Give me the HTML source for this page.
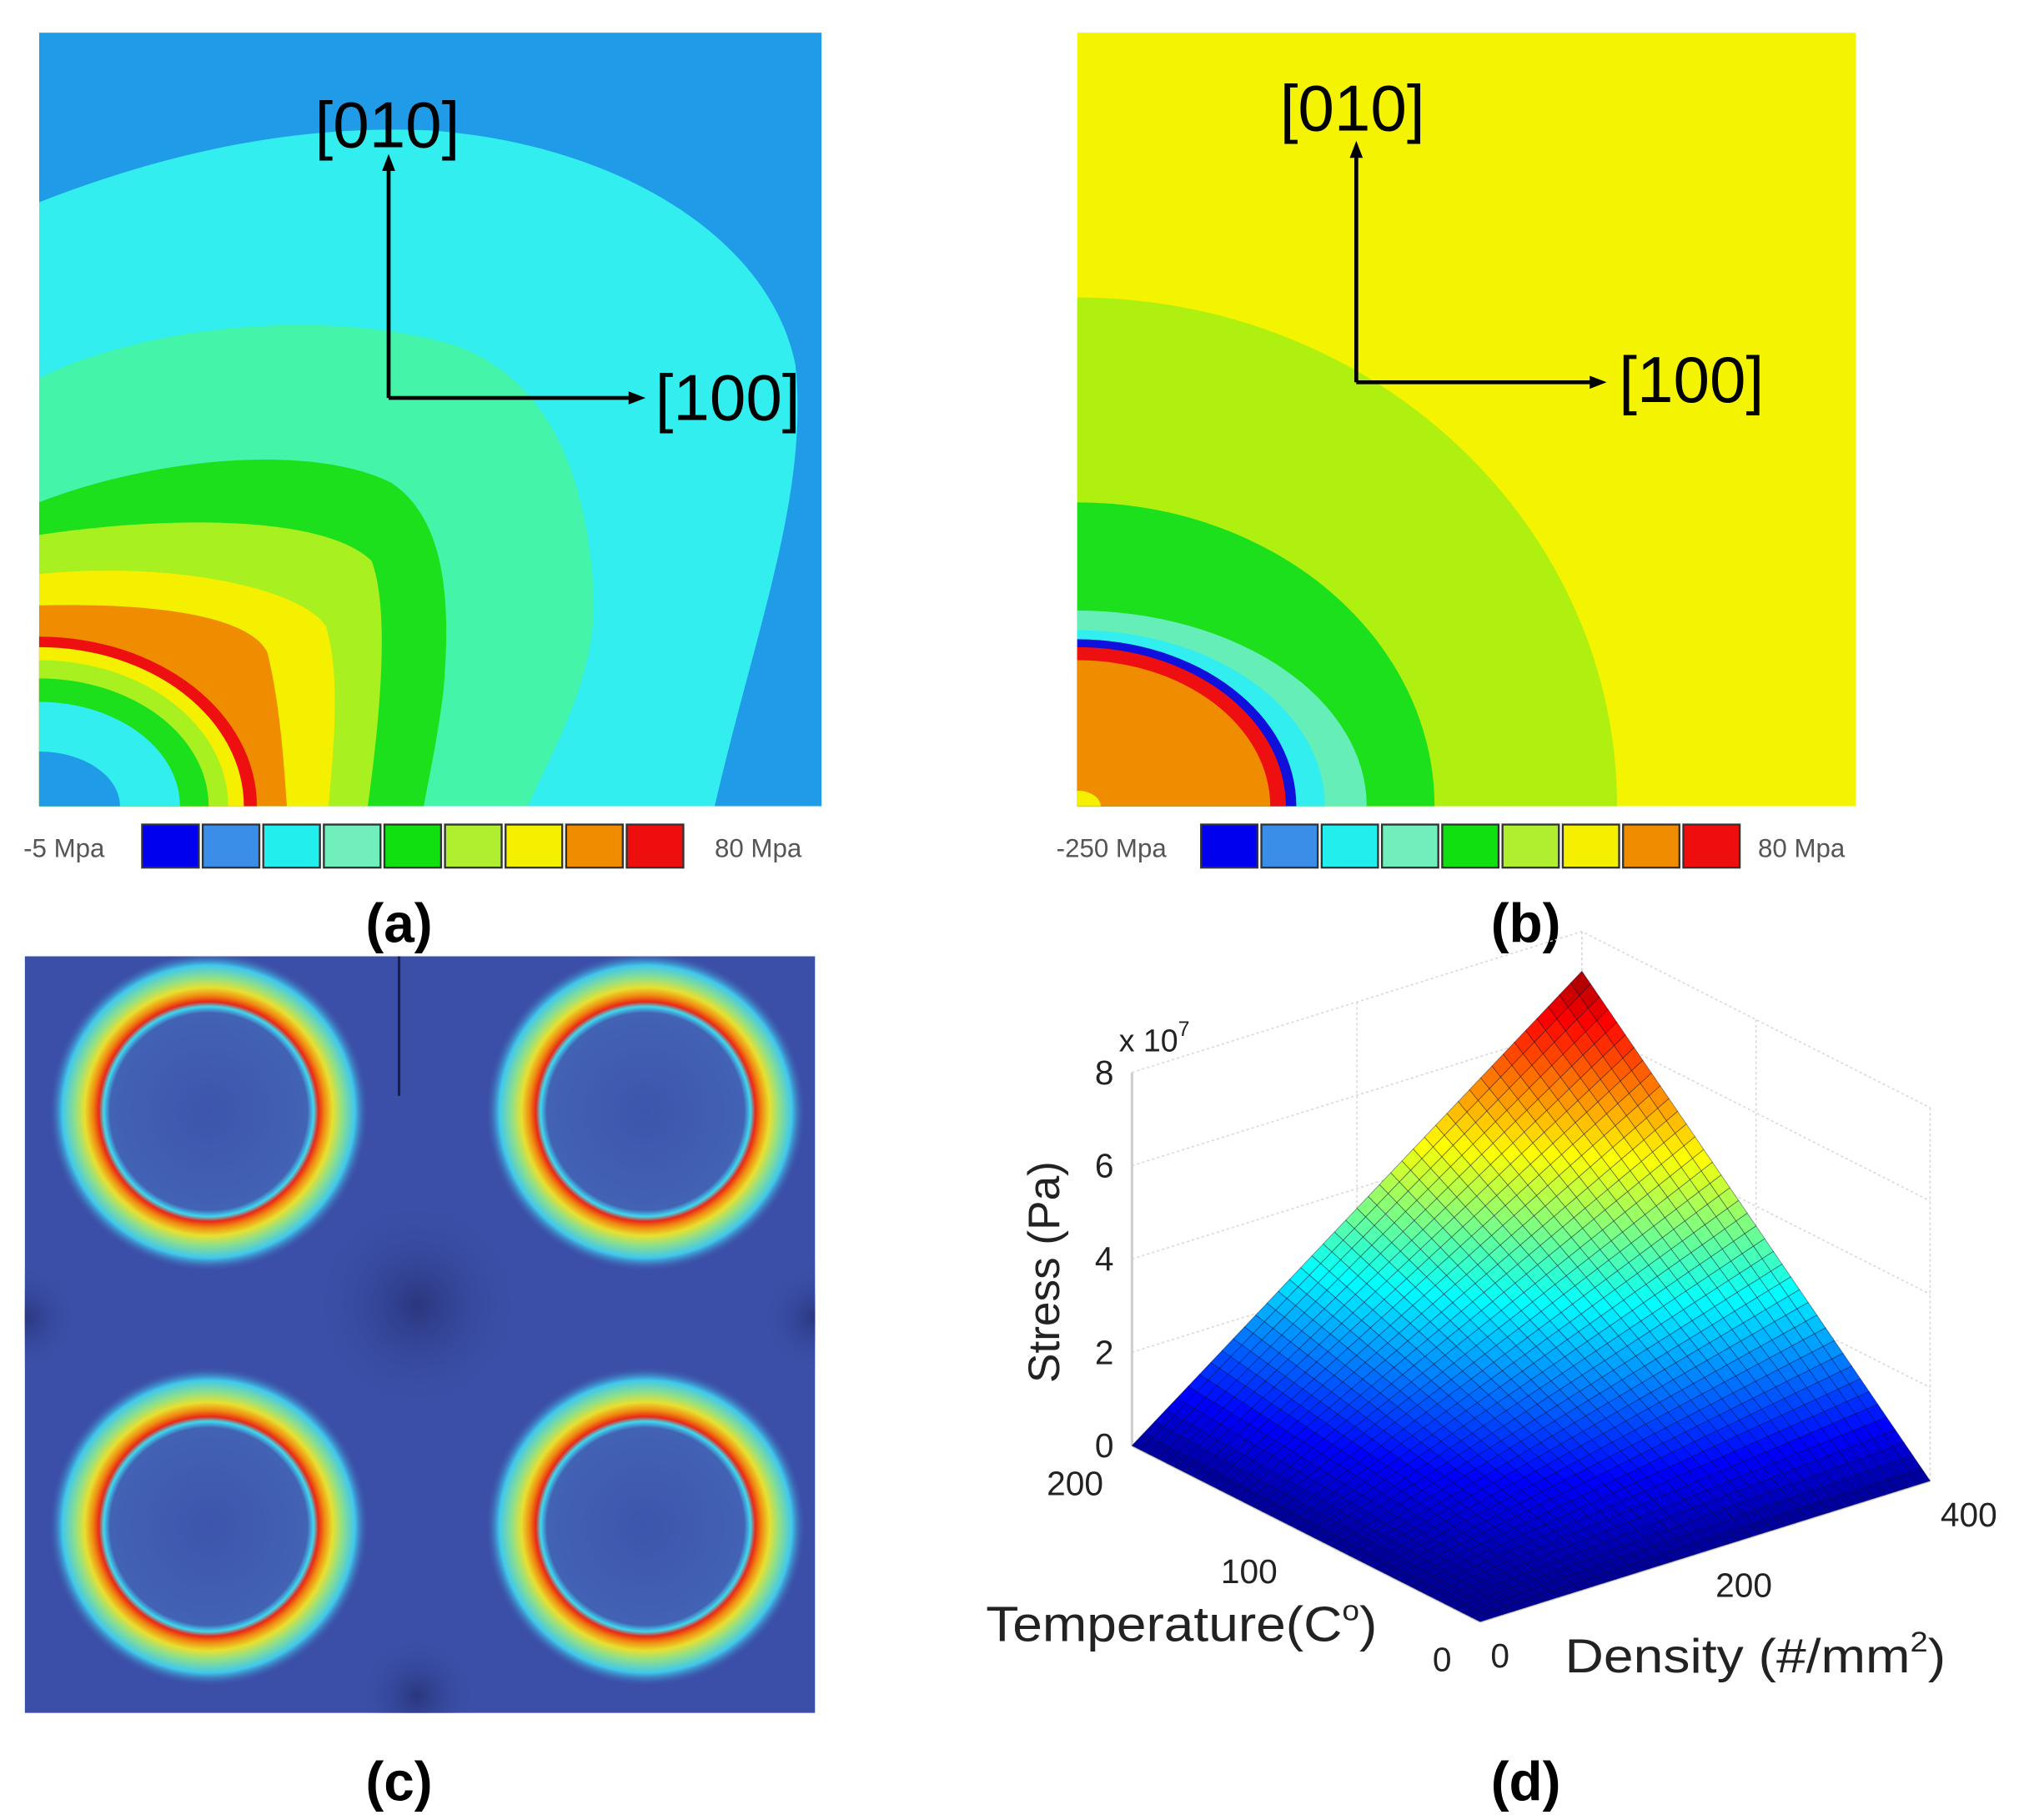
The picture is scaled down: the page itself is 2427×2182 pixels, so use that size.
<!DOCTYPE html>
<html><head><meta charset="utf-8">
<style>
html,body{margin:0;padding:0;background:#fff;}
svg{display:block;}
text{font-family:"Liberation Sans",sans-serif;}
</style></head>
<body>
<svg id="fig" width="2427" height="2182" viewBox="0 0 1552 1395" preserveAspectRatio="none" xmlns="http://www.w3.org/2000/svg">
<defs>
  <clipPath id="clipA"><rect x="30" y="25" width="600" height="593"/></clipPath>
  <clipPath id="clipB"><rect x="826" y="25" width="597" height="593"/></clipPath>
  <clipPath id="clipC"><rect x="19" y="733" width="606" height="580"/></clipPath>
  <radialGradient id="ringG" cx="0.5" cy="0.5" r="0.5">
    <stop offset="0" stop-color="#3d55ad"/>
    <stop offset="0.62" stop-color="#4262b4"/>
    <stop offset="0.66" stop-color="#40d8f0"/>
    <stop offset="0.69" stop-color="#e82818"/>
    <stop offset="0.73" stop-color="#f08a10"/>
    <stop offset="0.78" stop-color="#e8e030"/>
    <stop offset="0.84" stop-color="#90e088"/>
    <stop offset="0.92" stop-color="#40c8ec"/>
    <stop offset="1" stop-color="#3f5fb0" stop-opacity="0"/>
  </radialGradient>
  <radialGradient id="darkSpot" cx="0.5" cy="0.5" r="0.5">
    <stop offset="0" stop-color="#2a367e"/>
    <stop offset="1" stop-color="#3a4ea6" stop-opacity="0"/>
  </radialGradient>
</defs>

<!-- Panel A -->
<g clip-path="url(#clipA)">
  <rect x="30" y="25" width="600" height="593" fill="#1f9be8"/>
  <path fill="#33eeee" d="M30,155 C120,120 220,95 330,100 C470,110 590,180 610,280 C620,380 580,480 548,618 L30,618 Z"/>
  <path fill="#44f4a8" d="M30,290 C110,250 250,235 350,265 C430,295 450,380 455,450 C460,520 420,580 405,618 L30,618 Z"/>
  <path fill="#1ce01c" d="M30,385 C120,350 240,340 300,370 C345,400 345,470 340,530 C335,570 328,600 325,618 L30,618 Z"/>
  <path fill="#a8f020" d="M30,410 C130,395 250,395 285,430 C300,470 290,560 282,618 L30,618 Z"/>
  <path fill="#f4f000" d="M30,440 C130,430 230,450 250,480 C262,520 255,580 252,618 L30,618 Z"/>
  <path fill="#f08c00" d="M30,464 C110,462 190,470 205,500 C215,540 218,590 220,618 L30,618 Z"/>
  <ellipse cx="30" cy="618" rx="167" ry="130" fill="#ee1010"/>
  <ellipse cx="30" cy="618" rx="157" ry="122" fill="#f4f000"/>
  <ellipse cx="30" cy="618" rx="145" ry="112" fill="#a8f020"/>
  <ellipse cx="30" cy="618" rx="130" ry="98" fill="#1ce01c"/>
  <ellipse cx="30" cy="618" rx="108" ry="80" fill="#33eeee"/>
  <ellipse cx="30" cy="618" rx="62" ry="42" fill="#1f9be8"/>
</g>
<g stroke="#000" stroke-width="3" fill="none">
  <line x1="298" y1="305" x2="298" y2="128"/>
  <line x1="298" y1="305" x2="485" y2="305"/>
</g>
<polygon points="298,118 293,131 303,131" fill="#000"/>
<polygon points="495,305 482,300 482,310" fill="#000"/>
<text x="297" y="113" font-size="50" text-anchor="middle">[010]</text>
<text x="558" y="322" font-size="50" text-anchor="middle">[100]</text>

<g>
  <text x="18" y="657" font-size="20" fill="#555">-5 Mpa</text>
  <text x="548" y="657" font-size="20" fill="#555">80 Mpa</text>
</g>

<!-- Panel B -->
<g clip-path="url(#clipB)">
  <rect x="826" y="25" width="597" height="593" fill="#f4f400"/>
  <ellipse cx="826" cy="618" rx="414" ry="390" fill="#b0f010"/>
  <ellipse cx="826" cy="618" rx="274" ry="233" fill="#1ce01c"/>
  <ellipse cx="826" cy="618" rx="222" ry="150" fill="#66eeb8"/>
  <ellipse cx="826" cy="618" rx="190" ry="135" fill="#33eeee"/>
  <ellipse cx="826" cy="618" rx="168" ry="128" fill="#1010dd"/>
  <ellipse cx="826" cy="618" rx="160" ry="122" fill="#ee1010"/>
  <ellipse cx="826" cy="618" rx="148" ry="112" fill="#f08c00"/>
  <ellipse cx="826" cy="618" rx="18" ry="12" fill="#f4f000"/>
</g>
<g stroke="#000" stroke-width="3" fill="none">
  <line x1="1040" y1="293" x2="1040" y2="118"/>
  <line x1="1040" y1="293" x2="1222" y2="293"/>
</g>
<polygon points="1040,108 1035,121 1045,121" fill="#000"/>
<polygon points="1232,293 1219,288 1219,298" fill="#000"/>
<text x="1037" y="100" font-size="50" text-anchor="middle">[010]</text>
<text x="1297" y="308" font-size="50" text-anchor="middle">[100]</text>
<g>
  <text x="810" y="657" font-size="20" fill="#555">-250 Mpa</text>
  <text x="1348" y="657" font-size="20" fill="#555">80 Mpa</text>
</g>

<text x="306" y="722" font-size="42" font-weight="bold" text-anchor="middle">(a)</text>
<text x="1170" y="722" font-size="42" font-weight="bold" text-anchor="middle">(b)</text>

<!-- Panel C -->
<g clip-path="url(#clipC)">
  <rect x="19" y="733" width="606" height="580" fill="#3b4fa8"/>
  <circle cx="320" cy="1000" r="80" fill="url(#darkSpot)"/>
  <circle cx="19" cy="1010" r="40" fill="url(#darkSpot)"/>
  <circle cx="625" cy="1010" r="40" fill="url(#darkSpot)"/>
  <circle cx="320" cy="1300" r="45" fill="url(#darkSpot)"/>
  <circle cx="160" cy="852" r="122" fill="url(#ringG)"/>
  <circle cx="495" cy="852" r="122" fill="url(#ringG)"/>
  <circle cx="160" cy="1170" r="122" fill="url(#ringG)"/>
  <circle cx="495" cy="1170" r="122" fill="url(#ringG)"/>
  <line x1="306" y1="733" x2="306" y2="840" stroke="#1a2040" stroke-width="2"/>
</g>
<text x="306" y="1380" font-size="42" font-weight="bold" text-anchor="middle">(c)</text>

<!-- Panel D -->
<g id="panelD"></g>
<text x="1170" y="1380" font-size="42" font-weight="bold" text-anchor="middle">(d)</text>

<text x="858" y="806" font-size="24" fill="#222">x 10<tspan font-size="16" dy="-12">7</tspan></text>
<text x="812" y="975" font-size="34" fill="#222" text-anchor="middle" transform="rotate(-90 812 975)">Stress (Pa)</text>
<text x="756" y="1258" font-size="38" fill="#222" textLength="300" lengthAdjust="spacingAndGlyphs">Temperature(C<tspan font-size="22" dy="-16">o</tspan><tspan dy="16">)</tspan></text>
<text x="1200" y="1282" font-size="37" fill="#222" textLength="292" lengthAdjust="spacingAndGlyphs">Density (#/mm<tspan font-size="22" dy="-16">2</tspan><tspan dy="16">)</tspan></text>
</svg>

<script>
const cbColors = ["#0000ee","#3a8ee8","#22eeee","#70eebb","#10e010","#b0ee30","#f4f000","#f08c00","#ee0e0e"];
const tempTicks = [0, 100, 200];
const densTicks = [0, 200, 400];
const zTicks = [0, 2, 4, 6, 8];
const zCorners = [0, 0, 0, 7.15];
const gridN = 40;

const NS = "http://www.w3.org/2000/svg";
const svg = document.getElementById('fig');
function mk(tag, attrs, parent){ const e=document.createElementNS(NS,tag); for(const k in attrs) e.setAttribute(k,attrs[k]); (parent||svg).appendChild(e); return e; }

[[108,526],[920,1336]].forEach((r,ci)=>{
  const w=(r[1]-r[0])/cbColors.length;
  cbColors.forEach((c,i)=>{
    const el=mk('rect',{x:r[0]+i*w+1,y:632,width:w-3,height:33,fill:c,stroke:'#333','stroke-width':1.5});
    
    
  });
});

const O=[1135,1243], vT=[-267/200,-135/200], vD=[345/400,-108/400], vZ=[0,-286/8];
function P(T,D,z){ return [O[0]+T*vT[0]+D*vD[0]+z*vZ[0], O[1]+T*vT[1]+D*vD[1]+z*vZ[1]]; }
function jet(v){
  const r=Math.min(1,Math.max(0,1.5-Math.abs(4*v-3)));
  const g=Math.min(1,Math.max(0,1.5-Math.abs(4*v-2)));
  const b=Math.min(1,Math.max(0,1.5-Math.abs(4*v-1)));
  return `rgb(${Math.round(r*255)},${Math.round(g*255)},${Math.round(b*255)})`;
}
const g=document.getElementById('panelD');
const Tmax=tempTicks[tempTicks.length-1], Dmax=densTicks[densTicks.length-1], Zmax=zTicks[zTicks.length-1];
const wall=mk('g',{stroke:'#d8d8d8','stroke-width':1,'stroke-dasharray':'2,2',fill:'none'},g);


zTicks.forEach(z=>{
  const a=P(Tmax,0,z), b=P(Tmax,Dmax,z), c=P(0,Dmax,z);
  mk('polyline',{points:`${a} ${b} ${c}`},wall);
});
densTicks.forEach(d=>{ const a=P(Tmax,d,0), b=P(Tmax,d,Zmax); mk('line',{x1:a[0],y1:a[1],x2:b[0],y2:b[1]},wall); });
tempTicks.forEach(t=>{ const a=P(t,Dmax,0), b=P(t,Dmax,Zmax); mk('line',{x1:a[0],y1:a[1],x2:b[0],y2:b[1]},wall); });
const ax=mk('g',{stroke:'#cfcfcf','stroke-width':2,fill:'none'},g);


[[P(Tmax,0,0),P(Tmax,0,Zmax)],[P(Tmax,0,0),P(0,0,0)],[P(0,0,0),P(0,Dmax,0)]].forEach(l=>mk('line',{x1:l[0][0],y1:l[0][1],x2:l[1][0],y2:l[1][1]},ax));
function zAt(T,D){ const u=T/Tmax, v=D/Dmax; return zCorners[0]*(1-u)*(1-v)+zCorners[1]*u*(1-v)+zCorners[2]*(1-u)*v+zCorners[3]*u*v; }
const surf=mk('g',{},g);


const zMaxSurf=Math.max(...zCorners);
for(let s=2*gridN-2;s>=0;s--){
  for(let i=0;i<gridN;i++){ const j=s-i; if(j<0||j>=gridN) continue;
    const T0=i*Tmax/gridN,T1=(i+1)*Tmax/gridN,D0=j*Dmax/gridN,D1=(j+1)*Dmax/gridN;
    const zc=(zAt(T0,D0)+zAt(T1,D1)+zAt(T0,D1)+zAt(T1,D0))/4;
    const pts=[P(T0,D0,zAt(T0,D0)),P(T1,D0,zAt(T1,D0)),P(T1,D1,zAt(T1,D1)),P(T0,D1,zAt(T0,D1))];
    const q=mk('polygon',{points:pts.map(p=>p.join(',')).join(' '),fill:jet(zc/zMaxSurf*0.95+0.02),stroke:'rgba(0,0,40,0.4)','stroke-width':0.6},surf);
    
    
  }
}
zTicks.forEach(z=>{ const p=P(Tmax,0,z); const t=mk('text',{x:p[0]-14,y:p[1]+9,'font-size':26,'text-anchor':'end',fill:'#222'},g); t.textContent=z;
    });
tempTicks.forEach(v=>{ const p=P(v,0,0); const t=mk('text',{x:p[0]-22,y:p[1]+38,'font-size':26,'text-anchor':'end',fill:'#222'},g); t.textContent=v;
    });
densTicks.forEach(v=>{ const p=P(0,v,0); const t=mk('text',{x:p[0]+8,y:p[1]+35,'font-size':26,'text-anchor':'start',fill:'#222'},g); t.textContent=v;
    });
</script>
</body></html>
